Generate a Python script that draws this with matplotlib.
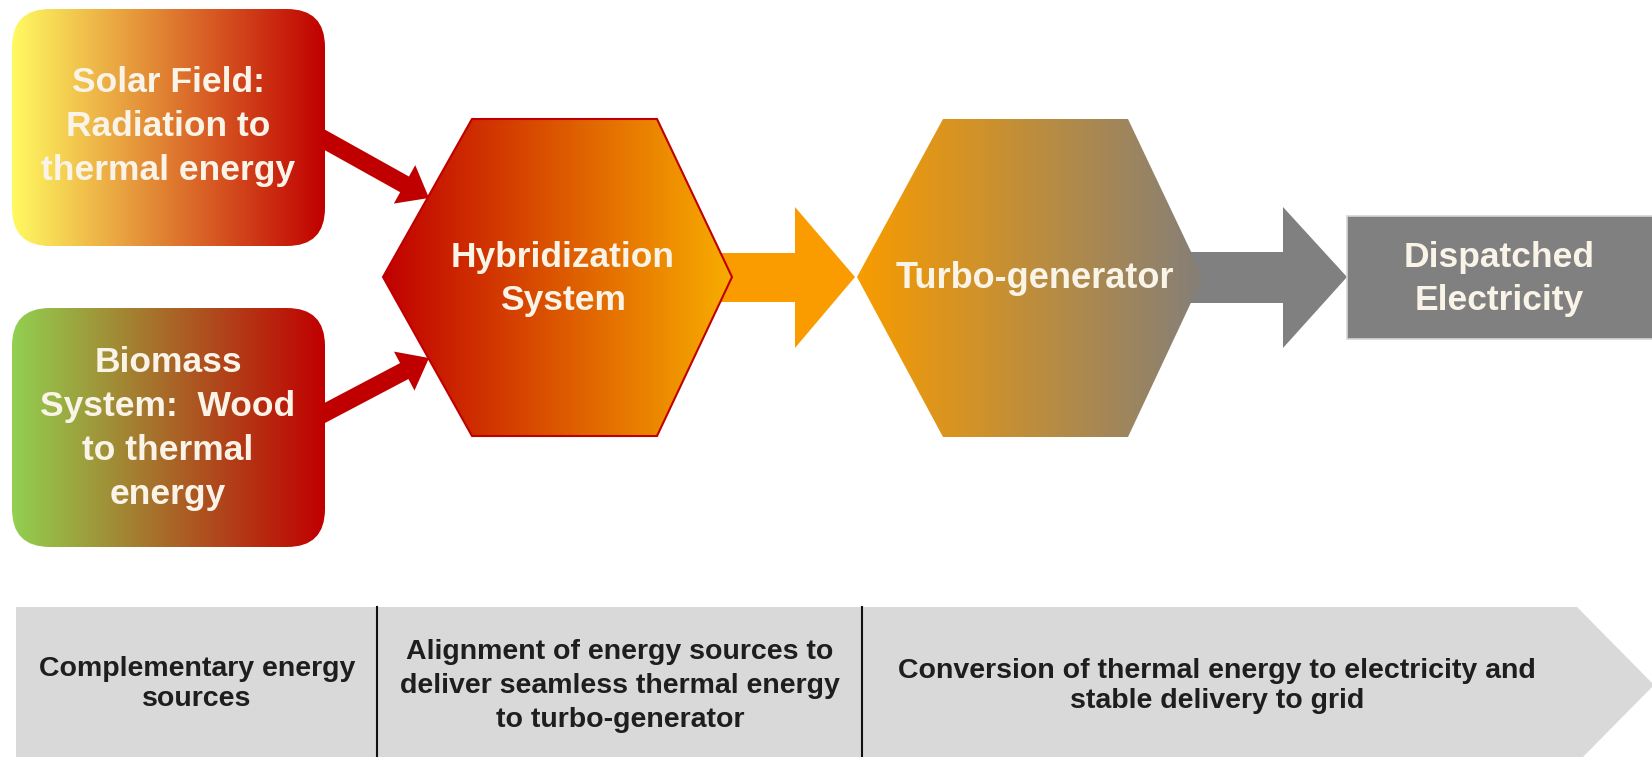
import numpy as np
import matplotlib.pyplot as plt
from matplotlib.patches import FancyBboxPatch, Polygon, Rectangle, FancyArrow
from matplotlib.colors import LinearSegmentedColormap

plt.rcParams['font.family'] = ['Liberation Sans', 'DejaVu Sans']

# labels of the diagram
source_labels = ['Solar Field:\nRadiation to\nthermal energy',
                 'Biomass\nSystem:  Wood\nto thermal\nenergy']
source_colors = [('#fffa62', '#c00000'), ('#92d050', '#c00000')]
hub_label = 'Hybridization\nSystem'
turbo_label = 'Turbo-generator'
output_label = 'Dispatched\nElectricity'
stage_labels = ['Complementary energy\nsources',
                'Alignment of energy sources to\ndeliver seamless thermal energy\nto turbo-generator',
                'Conversion of thermal energy to electricity and\nstable delivery to grid']

W, H = 1652, 757
txt_col = '#faf4e8'
red = '#c00000'
gray = '#808080'


def gradient_fill(ax, patch, x0, x1, y0, y1, c0, c1, z=2):
    patch.set_zorder(z)
    ax.add_patch(patch)
    cmap = LinearSegmentedColormap.from_list('g', [c0, c1])
    grad = np.linspace(0, 1, 256).reshape(1, -1)
    im = ax.imshow(grad, cmap=cmap, extent=[x0, x1, y1, y0], aspect='auto',
                   interpolation='bicubic', zorder=z + 0.1)
    im.set_clip_path(patch)


fig = plt.figure(figsize=(W / 100, H / 100), dpi=100)
ax = fig.add_axes([0, 0, 1, 1])
ax.set_autoscale_on(False)
ax.set_xlim(0, W)
ax.set_ylim(H, 0)
ax.axis('off')

# red arrows into the hub
ax.add_patch(FancyArrow(300, 126, 429 - 300, 198 - 126, width=18, head_width=44,
                        head_length=28, length_includes_head=True,
                        color=red, lw=0, zorder=1.5))
ax.add_patch(FancyArrow(300, 426, 429 - 300, 358 - 426, width=18, head_width=44,
                        head_length=28, length_includes_head=True,
                        color=red, lw=0, zorder=1.5))

# source boxes
box_y = [(9, 246), (308, 547)]
for lab, (c0, c1), (y0, y1), dy in zip(source_labels, source_colors, box_y, [-1, 1]):
    p = FancyBboxPatch((12, y0), 313, y1 - y0,
                       boxstyle='round,pad=0,rounding_size=38',
                       facecolor='none', edgecolor='none')
    gradient_fill(ax, p, 12, 325, y0, y1, c0, c1)
    ax.text(168, (y0 + y1) / 2 + dy, lab, ha='center', va='center', color=txt_col,
            fontsize=25.5, fontweight='bold', linespacing=1.42, zorder=6)

# orange arrow hub -> turbo
ax.add_patch(Polygon([(715, 253), (795, 253), (795, 207), (855, 277),
                      (795, 348), (795, 302), (715, 302)],
                     closed=True, facecolor='#fa9c00', edgecolor='none', zorder=1))

# hub hexagon
hub_xy = [(383, 277), (472, 119), (657, 119), (732, 277), (657, 436), (472, 436)]
hub = Polygon(hub_xy, closed=True, facecolor='none', edgecolor='none')
gradient_fill(ax, hub, 383, 732, 119, 436, '#c00000', '#f8ad00')
ax.add_patch(Polygon(hub_xy, closed=True, facecolor='none', edgecolor=red,
                     lw=1.5, zorder=4))
ax.text(563, 279, hub_label, ha='center', va='center', color=txt_col,
        fontsize=25.5, fontweight='bold', linespacing=1.42, zorder=6)

# gray arrow turbo -> output
ax.add_patch(Polygon([(1190, 252), (1283, 252), (1283, 207), (1347, 277),
                      (1283, 348), (1283, 303), (1190, 303)],
                     closed=True, facecolor=gray, edgecolor='none', zorder=1))

# turbo hexagon
turbo = Polygon([(857, 277), (943, 119), (1128, 119), (1203, 277), (1128, 437), (943, 437)],
                closed=True, facecolor='none', edgecolor='none')
gradient_fill(ax, turbo, 857, 1203, 119, 437, '#f89c00', '#857f78')
ax.text(1035, 279, turbo_label, ha='center', va='center', color=txt_col,
        fontsize=26, fontweight='bold', zorder=6)

# output box
ax.add_patch(Rectangle((1347, 216), 320, 123, facecolor=gray,
                       edgecolor='#d6d6d6', lw=1.2, zorder=2))
ax.text(1499, 279, output_label, ha='center', va='center', color=txt_col,
        fontsize=25.5, fontweight='bold', linespacing=1.42, zorder=6)

# bottom stage band
ax.add_patch(Polygon([(16, 607), (1577, 607), (1654, 685), (1577, 763), (16, 763)],
                     closed=True, facecolor='#d9d9d9', edgecolor='none', zorder=1))
for xd in [377, 862]:
    ax.plot([xd, xd], [607, 760], color='#111111', lw=1.5, zorder=2)
for lab, xc, yc, ls in zip(stage_labels, [197, 620, 1217], [684, 686, 686],
                           [1.24, 1.38, 1.24]):
    ax.text(xc, yc, lab, ha='center', va='center', color='#1e1e1e',
            fontsize=20.5, fontweight='bold', linespacing=ls, zorder=3)

fig.savefig('out.png', dpi=100)
